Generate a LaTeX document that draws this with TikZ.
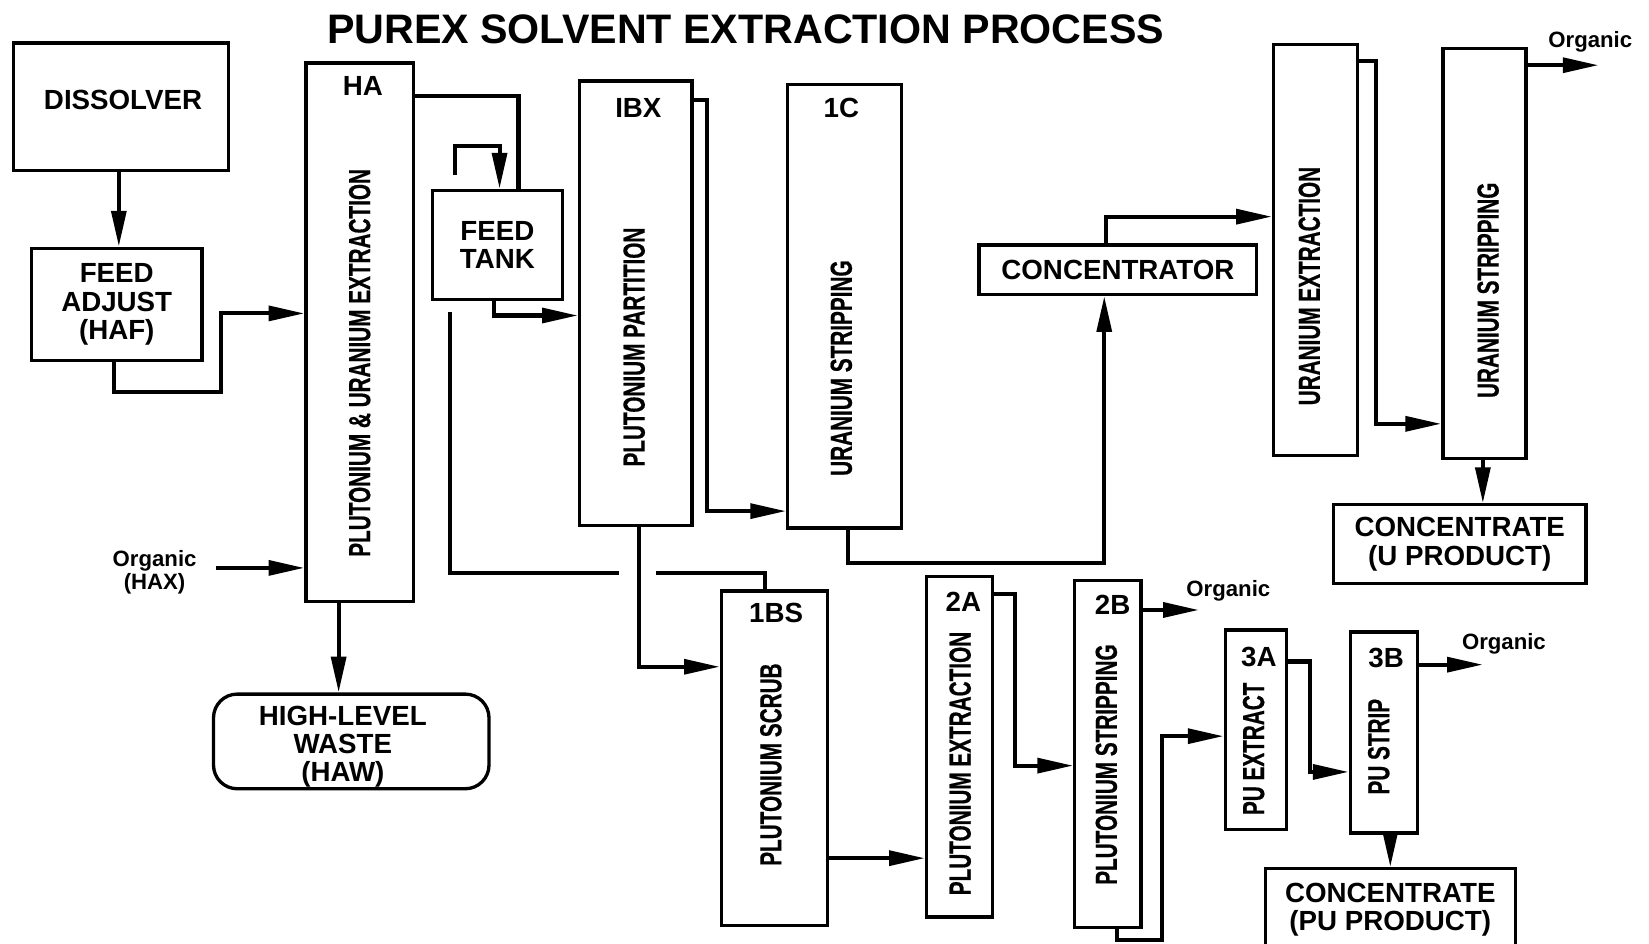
\documentclass[tikz,border=0pt]{standalone}
\usepackage{fontspec}
\setmainfont{Liberation Sans}
\newfontfamily\condfont[FakeStretch=0.68,FakeBold=0.5]{Liberation Sans}
\usetikzlibrary{arrows.meta}
\begin{document}
\begin{tikzpicture}[x=0.02cm,y=-0.02cm,
  box/.style={draw,line width=1.8pt,inner sep=0pt,align=center,font=\fontsize{15}{15.4}\selectfont\bfseries},
  txt/.style={inner sep=0pt,align=center,font=\fontsize{15}{15.4}\selectfont\bfseries},
  conn/.style={line width=2.2pt},
  arr/.style={conn,-{Triangle[length=0.68cm,width=0.28cm]}},
  lbl/.style={font=\fontsize{15}{15}\selectfont\bfseries,inner sep=0pt},
  vt/.style={rotate=90,inner sep=0pt,font=\fontsize{16.5}{16.5}\selectfont\condfont\bfseries},
  org/.style={font=\fontsize{12}{12.5}\selectfont\bfseries,inner sep=0pt,align=center}]
\fill[white] (0,0) rectangle (1568,897);
\useasboundingbox (0,0) rectangle (1568,897);
\clip (0,0) rectangle (1568,897);

% title
\node[inner sep=0pt,font=\fontsize{22.3}{22.3}\selectfont\bfseries] (title) at (709,28) {PUREX SOLVENT EXTRACTION PROCESS};

% boxes
\node[box,minimum width=4.08cm,minimum height=2.42cm] (dis) at (115,101.5) {};
\node[txt] (disT) at (117,95) {DISSOLVER};
\node[box,minimum width=3.24cm,minimum height=2.14cm] (fa) at (111,289.5) {FEED\\ADJUST\\(HAF)};
\node[box,minimum width=2.04cm,minimum height=10.24cm] (ha) at (342,316) {};
\node[box,minimum width=2.48cm,minimum height=2.08cm] (ft) at (473,233) {FEED\\TANK};
\node[box,minimum width=2.14cm,minimum height=8.46cm] (ibx) at (604.5,288.5) {};
\node[box,minimum width=2.16cm,minimum height=8.44cm] (c1) at (803,291) {};
\node[box,minimum width=5.28cm,minimum height=0.94cm] (conc) at (1063,256.5) {CONCENTRATOR};
\node[box,minimum width=1.6cm,minimum height=7.82cm] (ue) at (1251,237.5) {};
\node[box,minimum width=1.58cm,minimum height=7.8cm] (us) at (1411.5,241) {};
\node[box,minimum width=4.8cm,minimum height=1.5cm] (cu) at (1388,517.5) {CONCENTRATE\\(U PRODUCT)};
\node[box,rounded corners=0.45cm,minimum width=5.24cm,minimum height=1.8cm] (hlw) at (334,705) {};
\node[txt] (hlwT) at (326,710) {HIGH-LEVEL\\WASTE\\(HAW)};
\node[box,minimum width=2.02cm,minimum height=6.36cm] (bs) at (736.5,721) {};
\node[box,minimum width=1.26cm,minimum height=6.48cm] (a2) at (912.5,710) {};
\node[box,minimum width=1.26cm,minimum height=6.6cm] (b2) at (1053.5,717) {};
\node[box,minimum width=1.16cm,minimum height=3.8cm] (a3) at (1194,694) {};
\node[box,minimum width=1.28cm,minimum height=3.82cm] (b3) at (1316,696.5) {};
\node[box,minimum width=4.76cm,minimum height=1.56cm] (cp) at (1322,865) {CONCENTRATE\\(PU PRODUCT)};

% column labels
\node[lbl] (haL) at (345,82) {HA};
\node[lbl] (ibxL) at (607,103) {IBX};
\node[lbl] (c1L) at (800,103) {1C};
\node[lbl] (bsL) at (738,583) {1BS};
\node[lbl] (a2L) at (916,572) {2A};
\node[lbl] (b2L) at (1058,575) {2B};
\node[lbl] (a3L) at (1197,625) {3A};
\node[lbl] (b3L) at (1318,626) {3B};

% vertical texts
\node[vt] (haT) at (342,345) {PLUTONIUM \& URANIUM EXTRACTION};
\node[vt] (ibxT) at (603,330) {PLUTONIUM PARTITION};
\node[vt] (c1T) at (800,350) {URANIUM STRIPPING};
\node[vt] (ueT) at (1245,272) {URANIUM EXTRACTION};
\node[vt] (usT) at (1415,276) {URANIUM STRIPPING};
\node[vt] (bsT) at (733,727) {PLUTONIUM SCRUB};
\node[vt] (a2T) at (913,726) {PLUTONIUM EXTRACTION};
\node[vt] (b2T) at (1052,727) {PLUTONIUM STRIPPING};
\node[vt] (a3T) at (1192,712) {PU EXTRACT};
\node[vt] (b3T) at (1311,710) {PU STRIP};

% organic labels
\node[org] (haxL) at (147,544) {Organic\\(HAX)};
\node[org] (orgBL) at (1168,562) {Organic};
\node[org] (orgCL) at (1430,612) {Organic};
\node[org,anchor=west] (orgAL) at (1472,40) {Organic};

% free ends
\coordinate (loopstart) at (433,166);
\coordinate (bypass) at (428,297);
\coordinate (gapL) at (589,545);
\coordinate (gapR) at (624,545);
\coordinate (orgA) at (1520,62);
\coordinate (orgB) at (1140,580);
\coordinate (orgC) at (1410,632);
\coordinate (haxstart) at (205,540);

% connectors
\draw[arr] (dis.south -| 113,0) -- (fa.north -| 113,0);
\draw[arr] (fa.south -| 108,0) -- (108,373) -- (210,373) -- (210,298) -- (ha.west |- 0,298);
\draw[conn] (ha.east |- 0,91) -- (493,91) -- (ft.north -| 493,0);
\draw[arr] (loopstart) -- (433,139) -- (475,139) -- (ft.north -| 475,0);
\draw[arr] (ft.south -| 470,0) -- (470,300) -- (ibx.west |- 0,300);
\draw[conn] (bypass) -- (428,545) -- (gapL);
\draw[conn] (gapR) -- (727,545) -- (bs.north -| 727,0);
\draw[arr] (ibx.east |- 0,95) -- (672,95) -- (672,486) -- (c1.west |- 0,486);
\draw[arr] (ibx.south -| 608,0) -- (608,634) -- (bs.west |- 0,634);
\draw[arr] (c1.south -| 806,0) -- (806,535) -- (1050,535) -- (conc.south -| 1050,0);
\draw[arr] (conc.north -| 1052,0) -- (1052,206) -- (ue.west |- 0,206);
\draw[arr] (ue.east |- 0,58) -- (1308,58) -- (1308,403) -- (us.west |- 0,403);
\draw[arr] (us.east |- 0,62) -- (orgA);
\draw[arr] (us.south -| 1410,0) -- (cu.north -| 1410,0);
\draw[arr] (haxstart) -- (ha.west |- 0,540);
\draw[arr] (ha.south -| 322,0) -- (hlw.north -| 322,0);
\draw[arr] (bs.east |- 0,816) -- (a2.west |- 0,816);
\draw[arr] (a2.east |- 0,565) -- (965,565) -- (965,728) -- (b2.west |- 0,728);
\draw[arr] (b2.east |- 0,580) -- (orgB);
\draw[arr] (b2.south -| 1062,0) -- (1062,894) -- (1105,894) -- (1105,700) -- (a3.west |- 0,700);
\draw[arr] (a3.east |- 0,629) -- (1246,629) -- (1246,734) -- (b3.west |- 0,734);
\draw[arr] (b3.east |- 0,632) -- (orgC);
\draw[arr] (b3.south -| 1322,0) -- (cp.north -| 1322,0);
\end{tikzpicture}
\end{document}
